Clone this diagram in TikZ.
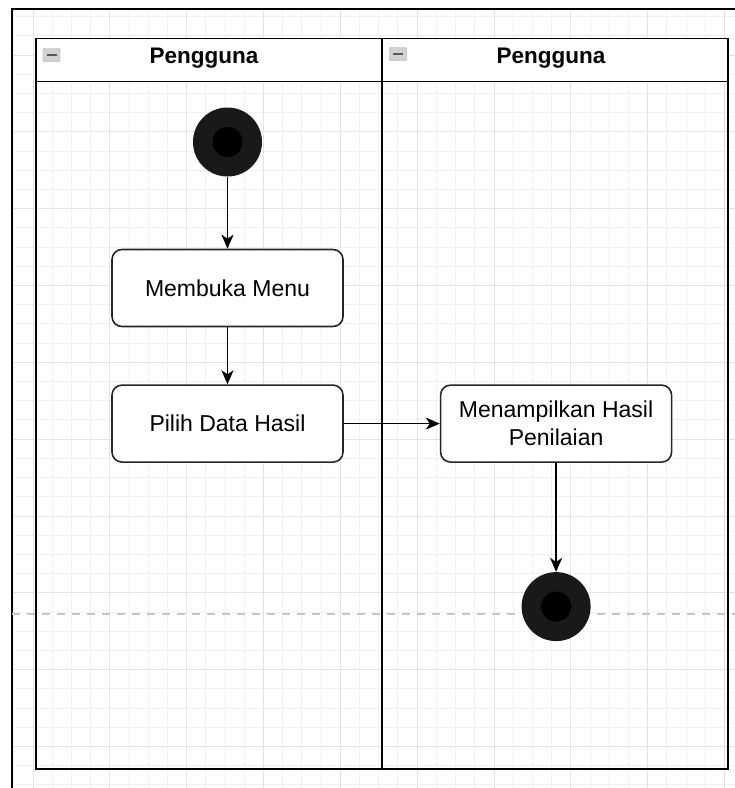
\documentclass[tikz,border=0pt]{standalone}
\usepackage{fontspec}
\setmainfont{Liberation Sans}
\usetikzlibrary{positioning,arrows.meta}

\begin{document}
\begin{tikzpicture}[x=1pt, y=-1pt, node distance=5mm,
    every node/.style={font=\fontsize{23}{28}\selectfont},
    action/.style={draw=black!85, line width=1.6pt, rounded corners=10pt, fill=white, align=center,
      minimum width=231pt, minimum height=77pt, inner sep=0pt},
    statedot/.style={circle, fill=black!90, minimum size=69pt, inner sep=0pt,
      path picture={\fill[black] (path picture bounding box.center) circle (15pt);}},
    flow/.style={-{Stealth[length=14pt, width=12pt, inset=4pt]}, line width=1.7pt},
    lane/.style={line width=1.5pt},
    lanehead/.style={font=\fontsize{22.5}{27}\selectfont\bfseries},
    collapse/.style={draw=gray!75, fill=gray!35, rounded corners=1pt, minimum width=17pt,
      minimum height=13pt, inner sep=0pt,
      path picture={\draw[black!65, line width=2pt]
        ([xshift=-5pt]path picture bounding box.center) -- ([xshift=5pt]path picture bounding box.center);}},
    gridminor/.style={gray!10, line width=0.8pt},
    gridmajor/.style={gray!22, line width=0.8pt}]
    \useasboundingbox (0,0) rectangle (735,788);

    % background grid
    \begin{scope}
      \clip (12,9) rectangle (735,788);
      \foreach \k in {-1,...,37} {
        \draw[gridminor] (32.9+19.21*\k,9) -- (32.9+19.21*\k,788);
      }
      \foreach \k in {-3,...,38} {
        \draw[gridminor] (12,54.9+19.21*\k) -- (735,54.9+19.21*\k);
      }
      \foreach \k in {0,...,9} {
        \draw[gridmajor] (32.9+76.85*\k,9) -- (32.9+76.85*\k,788);
      }
      \foreach \k in {0,...,9} {
        \draw[gridmajor] (12,54.9+76.85*\k) -- (735,54.9+76.85*\k);
      }
    \end{scope}
    \draw[line width=1.5pt] (735,9) -- (12,9) -- (12,788);
    \draw[gray!45, line width=1.5pt, dash pattern=on 8pt off 7pt] (12,614) -- (735,614);

    % pool and lanes
    \fill[white] (36,38.5) rectangle (728,81.7);
    \draw[lane] (36,38.5) rectangle (728,769);
    \draw[lane] (36,81.7) -- (728,81.7);
    \draw[lane] (382,38.5) -- (382,769);
    \node[collapse] (icon1) at (51.5,55) {};
    \node[collapse] (icon2) at (398,54) {};
    \node[lanehead] (head1) at (204,58) {Pengguna};
    \node[lanehead] (head2) at (551,58) {Pengguna};

    \node[statedot] (start) at (227.5,142) {};
    \node[action, below=72pt of start] (menu) {Membuka Menu};
    \node[action, below=57pt of menu] (pilih) {Pilih Data Hasil};
    \node[action, right=96pt of pilih] (tampil) {Menampilkan Hasil\\Penilaian};
    \node[statedot, below=109pt of tampil] (finish) {};

    \draw[flow] (start) -- (menu);
    \draw[flow] (menu) -- (pilih);
    \draw[flow] (pilih) -- (tampil);
    \draw[flow] (tampil) -- (finish);
\end{tikzpicture}
\end{document}
